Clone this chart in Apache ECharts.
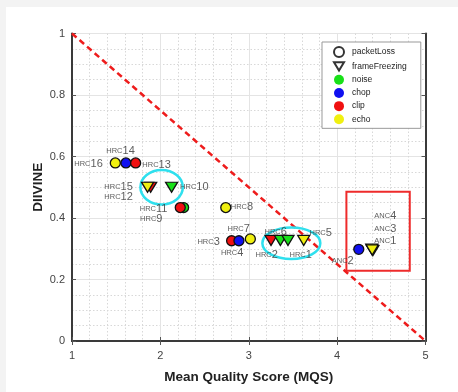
<!DOCTYPE html>
<html>
<head>
<meta charset="utf-8">
<script src="https://cdn.jsdelivr.net/npm/echarts@6/dist/echarts.min.js"></script>
<style>
html,body{margin:0;padding:0;background:#f3f3f3;}
#panel{position:absolute;left:6px;top:7px;right:0;bottom:0;background:#fff;}
#main{position:absolute;left:0;top:0;width:458px;height:392px;}
</style>
</head>
<body>
<div id="panel"></div>
<div id="main"></div>
<script>
// ---- data ----
const xTicks = [1, 2, 3, 4, 5];
const yTicks = [0, 0.2, 0.4, 0.6, 0.8, 1];
const noiseColors = { noise: '#18e018', chop: '#1010f0', clip: '#f01010', echo: '#f0f010' };
const legendNames = ['packetLoss', 'frameFreezing', 'noise', 'chop', 'clip', 'echo'];

// packetLoss (circles): [MQS, DIIVINE, noise type] in drawing order
const packetLoss = [
  [1.49, 0.579, 'echo'], [1.61, 0.579, 'chop'], [1.72, 0.579, 'clip'],
  [2.263, 0.434, 'noise'], [2.225, 0.434, 'clip'],
  [2.74, 0.434, 'echo'],
  [2.806, 0.326, 'clip'], [2.889, 0.326, 'chop'],
  [3.018, 0.332, 'echo'],
  [4.245, 0.298, 'chop']
];
// frameFreezing (down triangles)
const frameFreezing = [
  [1.89, 0.50, 'clip'], [1.855, 0.50, 'echo'],
  [2.127, 0.50, 'noise'],
  [3.252, 0.327, 'clip'], [3.358, 0.327, 'noise'], [3.444, 0.327, 'noise'],
  [3.622, 0.327, 'echo'],
  [4.392, 0.299, 'echo'], [4.404, 0.294, 'echo'], [4.397, 0.296, 'echo']
];
// text annotations: [label, MQS, DIIVINE]
const pointLabels = [
  ['HRC14', 1.549, 0.618], ['HRC16', 1.187, 0.576], ['HRC13', 1.957, 0.572],
  ['HRC15', 1.527, 0.502], ['HRC12', 1.527, 0.467], ['HRC10', 2.384, 0.502],
  ['HRC11', 1.923, 0.429], ['HRC9', 1.897, 0.398], ['HRC8', 2.923, 0.435],
  ['HRC7', 2.886, 0.363], ['HRC3', 2.546, 0.322], ['HRC4', 2.812, 0.287],
  ['HRC6', 3.305, 0.355], ['HRC2', 3.203, 0.280], ['HRC1', 3.588, 0.280],
  ['HRC5', 3.814, 0.350],
  ['ANC4', 4.545, 0.4065], ['ANC3', 4.545, 0.363], ['ANC1', 4.545, 0.325],
  ['ANC2', 4.063, 0.260]
];
// reference line y = (5 - x) / 4
const refLine = [[1, 1], [5, 0]];
// highlight ellipses: [centre MQS, centre DIIVINE, half-width MQS, half-height DIIVINE]
const ellipses = [[2.014, 0.50, 0.240, 0.056], [3.482, 0.318, 0.328, 0.051]];
// highlight box corners
const anchorBox = [[4.105, 0.4855], [4.822, 0.2286]];

const font = '"Liberation Sans", Arial, sans-serif';
const chart = echarts.init(document.getElementById('main'), null, { renderer: 'canvas' });

const triPath = 'path://M0,0 L12,0 L6,10 Z';

const dummy = legendNames.map(n => ({ name: n, type: 'scatter', data: [] }));

const legendData = [
  { name: 'packetLoss', icon: 'circle', itemStyle: { color: '#fff', borderColor: '#000', borderWidth: 2 } },
  { name: 'frameFreezing', icon: triPath, itemStyle: { color: '#fff', borderColor: '#000', borderWidth: 2 } },
  { name: 'noise', icon: 'circle', itemStyle: { color: noiseColors.noise, borderWidth: 0, opacity: 1 } },
  { name: 'chop', icon: 'circle', itemStyle: { color: noiseColors.chop, borderWidth: 0, opacity: 1 } },
  { name: 'clip', icon: 'circle', itemStyle: { color: noiseColors.clip, borderWidth: 0, opacity: 1 } },
  { name: 'echo', icon: 'circle', itemStyle: { color: noiseColors.echo, borderWidth: 0, opacity: 1 } }
];

const gridLine = { show: true, lineStyle: { color: '#e4e4e4', width: 1 } };
const minorLine = { show: true, lineStyle: { color: '#d8d8d8', width: 1, type: [1.5, 2] } };
const frame = { show: true, lineStyle: { color: '#3a3a3a', width: 2 } };
const tick = { show: true, inside: true, length: 4, lineStyle: { color: '#555', width: 1 } };

chart.setOption({
  animation: false,
  textStyle: { fontFamily: font },
  grid: { left: 72, top: 33.5, right: 32.5, bottom: 51 },
  legend: {
    orient: 'vertical', left: 322, top: 42,
    padding: [4, 14, 4, 11], itemGap: 3.2, itemWidth: 10, itemHeight: 10,
    borderColor: '#999', borderWidth: 1, backgroundColor: '#fff',
    selectedMode: false,
    textStyle: { fontSize: 8.5, color: '#222', fontFamily: font, padding: [0, 0, 0, 3] },
    data: legendData
  },
  xAxis: [{
    type: 'value', min: xTicks[0], max: xTicks[xTicks.length - 1], interval: 1,
    name: 'Mean Quality Score (MQS)', nameLocation: 'middle', nameGap: 29,
    nameTextStyle: { fontSize: 13.5, fontWeight: 'bold', color: '#222', fontFamily: font },
    axisLine: frame, axisTick: tick,
    axisLabel: { fontSize: 11, color: '#444', margin: 9 },
    splitLine: gridLine,
    minorTick: { show: false, splitNumber: 5 },
    minorSplitLine: minorLine
  }, {
    type: 'value', position: 'top', min: 1, max: 5, interval: 1,
    axisLine: frame, axisTick: tick, axisLabel: { show: false }, splitLine: { show: false }
  }],
  yAxis: [{
    type: 'value', min: yTicks[0], max: yTicks[yTicks.length - 1], interval: 0.2,
    name: 'DIIVINE', nameLocation: 'middle', nameGap: 27, nameMoveOverlap: false,
    nameTextStyle: { fontSize: 13.5, fontWeight: 'bold', color: '#222', fontFamily: font },
    axisLine: frame, axisTick: tick,
    axisLabel: { fontSize: 11, color: '#444', margin: 7 },
    splitLine: gridLine,
    minorTick: { show: false, splitNumber: 4 },
    minorSplitLine: minorLine
  }, {
    type: 'value', position: 'right', min: 0, max: 1, interval: 0.2,
    axisLine: frame, axisTick: tick, axisLabel: { show: false }, splitLine: { show: false }
  }],
  series: [
    ...dummy,
    {
      type: 'line', data: refLine, symbol: 'none', silent: true, z: 3,
      lineStyle: { color: '#ee1c1c', width: 2.5, type: [6, 4] },
      markArea: {
        silent: true,
        itemStyle: { color: 'rgba(0,0,0,0)', borderColor: '#ee2b2b', borderWidth: 2 },
        data: [[{ coord: anchorBox[0] }, { coord: anchorBox[1] }]]
      }
    },
    {
      type: 'custom', silent: true, z: 4,
      data: ellipses,
      renderItem: (params, api) => {
        const c = api.coord([api.value(0), api.value(1)]);
        const s = api.size([api.value(2), api.value(3)]);
        return {
          type: 'ellipse',
          shape: { cx: c[0], cy: c[1], rx: s[0], ry: s[1] },
          style: { fill: 'none', stroke: '#2fe0ee', lineWidth: 2.5 }
        };
      }
    },
    {
      type: 'scatter', z: 5, symbol: 'circle', symbolSize: 10,
      data: packetLoss.map(p => ({
        value: [p[0], p[1]],
        itemStyle: { color: noiseColors[p[2]], borderColor: '#111', borderWidth: 1.3, opacity: 1 }
      }))
    },
    {
      type: 'scatter', z: 5, symbol: 'triangle', symbolRotate: 180, symbolSize: [12, 10],
      data: frameFreezing.map(p => ({
        value: [p[0], p[1]],
        itemStyle: { color: noiseColors[p[2]], borderColor: '#111', borderWidth: 1.3, opacity: 1 }
      }))
    },
    {
      type: 'scatter', z: 6, symbolSize: 0, silent: true,
      data: pointLabels.map(l => ({ value: [l[1], l[2]], name: l[0] })),
      label: {
        show: true, position: 'inside', align: 'center', verticalAlign: 'middle',
        formatter: p => '{a|' + p.name.slice(0, 3) + '}{b|' + p.name.slice(3) + '}',
        rich: {
          a: { fontSize: 7.5, color: '#333', fontFamily: font },
          b: { fontSize: 11, color: '#333', fontFamily: font }
        }
      }
    }
  ]
});
</script>
</body>
</html>
